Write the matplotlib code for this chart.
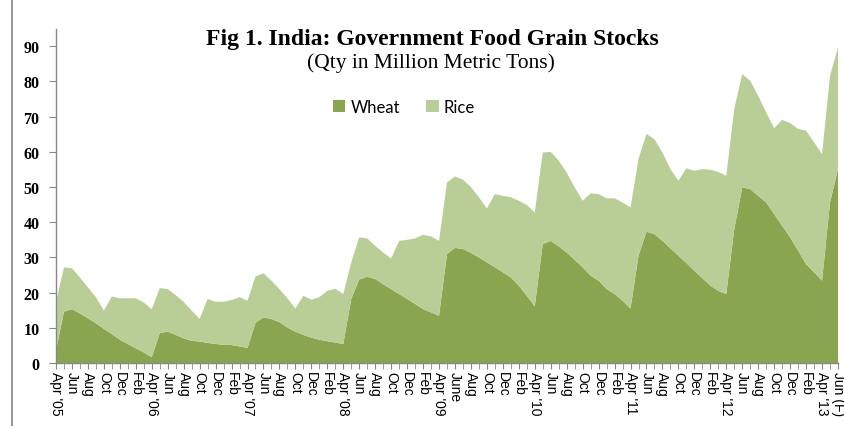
import matplotlib
matplotlib.use("Agg")
import matplotlib.pyplot as plt
import numpy as np

# Monthly data Apr'05 .. Jun'13 (F), million metric tons
wheat = [3.5, 14.6, 15.3, 14.1, 12.7, 11.3, 9.7, 8.2, 6.6, 5.4, 4.2, 3.0,
         1.6, 8.5, 8.9, 8.0, 7.0, 6.3, 6.1, 5.7, 5.4, 5.2, 5.1, 4.7,
         4.3, 11.4, 13.0, 12.5, 11.6, 10.1, 8.9, 8.0, 7.2, 6.6, 6.2, 5.8,
         5.4, 18.2, 23.7, 24.5, 23.9, 22.4, 21.0, 19.6, 18.2, 16.8, 15.3, 14.4,
         13.4, 31.0, 32.7, 32.4, 31.3, 30.0, 28.6, 27.2, 25.8, 24.3, 22.0, 19.1,
         16.1, 33.8, 34.7, 33.1, 31.4, 29.3, 27.2, 24.8, 23.4, 21.0, 19.6, 17.7,
         15.5, 30.5, 37.3, 36.6, 34.7, 32.6, 30.5, 28.4, 26.2, 24.1, 22.0, 20.5,
         19.6, 38.0, 49.9, 49.4, 47.5, 45.6, 42.3, 39.0, 35.7, 31.9, 28.1, 25.8,
         23.4, 45.6, 55.1]
rice = [13.8, 12.6, 11.6, 10.2, 8.8, 7.4, 5.2, 10.7, 11.8, 13.0, 14.2, 14.2,
        13.7, 12.8, 12.1, 11.3, 10.4, 8.6, 6.4, 12.5, 12.0, 12.2, 12.8, 14.0,
        13.4, 13.2, 12.5, 10.9, 9.4, 8.3, 6.6, 11.1, 10.8, 12.1, 14.3, 15.3,
        14.2, 10.4, 12.0, 10.9, 9.4, 9.0, 8.7, 15.1, 16.8, 18.6, 21.1, 21.6,
        21.3, 20.3, 20.3, 19.7, 18.7, 17.1, 15.3, 20.8, 21.7, 22.8, 24.1, 25.8,
        26.7, 26.0, 25.3, 24.4, 22.7, 20.6, 18.9, 23.4, 24.6, 25.8, 27.2, 27.9,
        28.7, 27.5, 27.8, 27.0, 25.1, 22.5, 21.3, 26.9, 28.4, 31.0, 32.9, 33.8,
        33.6, 34.2, 32.2, 30.8, 28.4, 25.6, 24.4, 30.1, 32.5, 34.6, 37.9, 36.9,
        36.0, 36.0, 34.6]
tick_labels = ["Apr '05", "Jun", "Aug", "Oct", "Dec", "Feb",
               "Apr '06", "Jun", "Aug", "Oct", "Dec", "Feb",
               "Apr '07", "Jun", "Aug", "Oct", "Dec", "Feb",
               "Apr '08", "Jun", "Aug", "Oct", "Dec", "Feb",
               "Apr '09", "June", "Aug", "Oct", "Dec", "Feb",
               "Apr '10", "Jun", "Aug", "Oct", "Dec", "Feb",
               "Apr '11", "Jun", "Aug", "Oct", "Dec", "Feb",
               "Apr '12", "Jun", "Aug", "Oct", "Dec", "Feb",
               "Apr '13", "Jun (F)"]
y_ticks = [0, 10, 20, 30, 40, 50, 60, 70, 80, 90]

wheat_color = "#8AA54F"
rice_color = "#B9CE97"

fig = plt.figure(figsize=(8.44, 4.27), dpi=100)
ax = fig.add_axes([56/844, 63/427, (838-56)/844, (364-30)/427])

x = np.arange(len(wheat))
ax.stackplot(x, wheat, rice, colors=[wheat_color, rice_color],
             labels=["Wheat", "Rice"], linewidth=0)

ax.set_xlim(0, len(wheat) - 1)
ax.set_ylim(0, 94.9)

ax.set_xticks(x[::2])
ax.set_xticklabels(tick_labels, rotation=-90, fontsize=10,
                   family="Liberation Sans", va="top", ha="center")
ax.set_xticks(x, minor=True)
ax.tick_params(axis="x", which="both", length=4, color="#888888", pad=2)

ax.set_yticks(y_ticks)
ax.set_yticklabels([str(v) for v in y_ticks], fontsize=11.5,
                   family="Liberation Serif", fontweight="bold")
ax.tick_params(axis="y", length=5, color="#888888", pad=7)

for s in ["top", "right"]:
    ax.spines[s].set_visible(False)
for s in ["left", "bottom"]:
    ax.spines[s].set_color("#888888")
    ax.spines[s].set_linewidth(1.0)

fig.text(432/844, 1 - 40/427, "Fig 1. India: Government Food Grain Stocks",
         ha="center", va="center", fontsize=17, fontweight="bold",
         family="Liberation Serif")
fig.text(431/844, 1 - 63/427, "(Qty in Million Metric Tons)",
         ha="center", va="center", fontsize=15.5, family="Liberation Serif")

leg = ax.legend(loc="center", bbox_to_anchor=(404/844, 1 - 108/427),
                bbox_transform=fig.transFigure, ncol=2, frameon=False,
                prop={"family": "Lato", "size": 12}, handlelength=0.75,
                handleheight=0.75, handletextpad=0.3, columnspacing=1.6)

fig.add_artist(plt.Line2D([12/844, 12/844], [0, 1], transform=fig.transFigure,
                          color="#999999", linewidth=1.5))

fig.savefig("out.png", dpi=100)
